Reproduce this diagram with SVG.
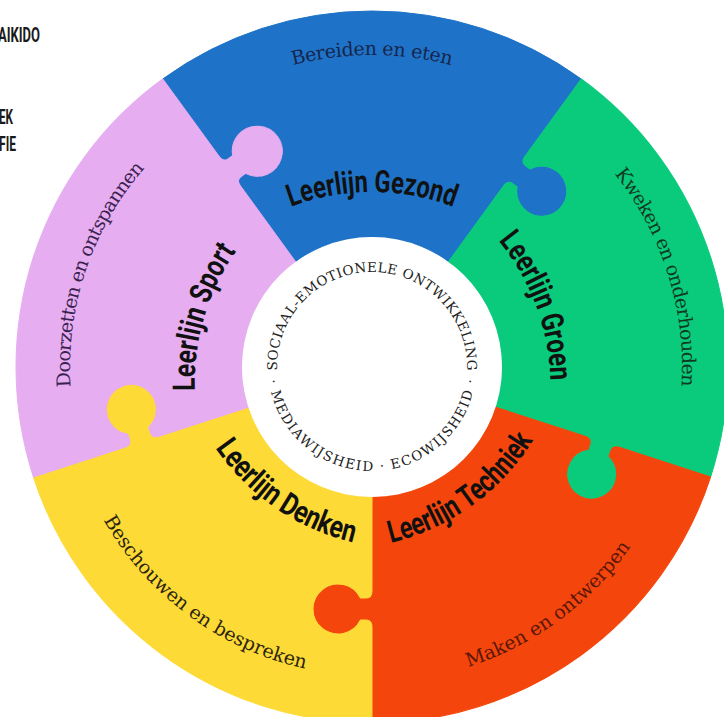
<svg xmlns="http://www.w3.org/2000/svg" width="724" height="717" viewBox="0 0 724 717">
<style>
  .lbl { font-family: Roboto, "Liberation Sans", sans-serif; font-weight: 700; font-size: 31px; fill: #111111; }
  .sub { font-family: "DejaVu Serif", "Liberation Serif", serif; font-size: 19px; }
  .ring { font-family: "DejaVu Serif", "Liberation Serif", serif; font-size: 13.5px; fill: #222222; }
  .corner { font-family: Roboto, "Liberation Sans", sans-serif; font-weight: 700; font-size: 21px; fill: #1a1a1a; }
  .piece { stroke-width: 1; stroke-linejoin: round; }
</style>
<defs>
  <path id="piece" d="M -76.412 -105.172 L -131.664 -181.220 Q -135.778 -186.883 -130.924 -190.410 L -126.434 -193.672 A 25 25 0 1 0 -139.366 -211.470 L -143.856 -208.208 Q -148.710 -204.681 -152.824 -210.344 L -209.251 -288.010 A 356 356 0 0 1 209.251 -288.010 L 152.824 -210.344 Q 148.710 -204.681 153.564 -201.154 L 158.054 -197.892 A 25 25 0 1 1 145.122 -180.094 L 140.632 -183.356 Q 135.778 -186.883 131.664 -181.220 L 76.412 -105.172 A 130 130 0 0 0 -76.412 -105.172 Z"/>
  <path id="arcOut" d="M -131.9 -133.4 A 230 230 0 0 1 131.9 -133.4"/>
  <path id="arcIn" d="M 131.9 -129.4 A 230 230 0 0 0 -131.9 -129.4"/>
  <path id="cw312" d="M 0 312 A 312 312 0 1 1 0 -312 A 312 312 0 1 1 0 312"/>
  <path id="cw310" d="M 0 310 A 310 310 0 1 1 0 -310 A 310 310 0 1 1 0 310"/>
  <path id="cw302" d="M 0 302 A 302 302 0 1 1 0 -302 A 302 302 0 1 1 0 302"/>
  <path id="ccw315" d="M 0 -315 A 315 315 0 1 0 0 315 A 315 315 0 1 0 0 -315"/>
  <path id="ccw309" d="M 0 -309 A 309 309 0 1 0 0 309 A 309 309 0 1 0 0 -309"/>
  <path id="ring95" d="M 0 95 A 95 95 0 1 1 0 -95 A 95 95 0 1 1 0 95"/>
  <path id="ring104" d="M 0 -104 A 104 104 0 1 0 0 104 A 104 104 0 1 0 0 -104"/>
</defs>
<rect width="724" height="717" fill="#ffffff"/>

<g id="corner-text">
  <text class="corner" x="-2" y="42" textLength="42" lengthAdjust="spacingAndGlyphs">AIKIDO</text>
  <text class="corner" x="-1" y="124" textLength="14" lengthAdjust="spacingAndGlyphs">EK</text>
  <text class="corner" x="-1" y="151" textLength="17" lengthAdjust="spacingAndGlyphs">FIE</text>
</g>

<g transform="translate(372 367)">
  <g id="leerlijn-gezond">
    <use href="#piece" class="piece" fill="#1E73C8" stroke="#1E73C8"/>
    <text class="lbl"><textPath href="#arcOut" startOffset="50%" text-anchor="middle" textLength="166" lengthAdjust="spacingAndGlyphs">Leerlijn Gezond</textPath></text>
    <text class="sub" fill="#16264d"><textPath href="#cw312" startOffset="50%" text-anchor="middle" textLength="160">Bereiden en eten</textPath></text>
  </g>
  <g id="leerlijn-groen">
    <use href="#piece" class="piece" transform="rotate(72)" fill="#0ACB7C" stroke="#0ACB7C"/>
    <text class="lbl" transform="rotate(69.7)"><textPath href="#arcOut" startOffset="50%" text-anchor="middle" textLength="152" lengthAdjust="spacingAndGlyphs">Leerlijn Groen</textPath></text>
    <text class="sub" fill="#0f3a22" transform="rotate(72.5)"><textPath href="#cw310" startOffset="50%" text-anchor="middle" textLength="228">Kweken en onderhouden</textPath></text>
  </g>
  <g id="leerlijn-techniek">
    <use href="#piece" class="piece" transform="rotate(144)" fill="#F4460C" stroke="#F4460C"/>
    <text class="lbl" transform="rotate(144.2)"><textPath href="#arcIn" startOffset="50%" text-anchor="middle" textLength="180" lengthAdjust="spacingAndGlyphs">Leerlijn Techniek</textPath></text>
    <text class="sub" fill="#5a1606" transform="rotate(-36.5)"><textPath href="#ccw315" startOffset="50%" text-anchor="middle" textLength="206">Maken en ontwerpen</textPath></text>
  </g>
  <g id="leerlijn-denken">
    <use href="#piece" class="piece" transform="rotate(216)" fill="#FDDA36" stroke="#FDDA36"/>
    <text class="lbl" transform="rotate(214.4)"><textPath href="#arcIn" startOffset="50%" text-anchor="middle" textLength="171" lengthAdjust="spacingAndGlyphs">Leerlijn Denken</textPath></text>
    <text class="sub" fill="#2b2410" transform="rotate(36.4)"><textPath href="#ccw309" startOffset="50%" text-anchor="middle" textLength="258">Beschouwen en bespreken</textPath></text>
  </g>
  <g id="leerlijn-sport">
    <use href="#piece" class="piece" transform="rotate(288)" fill="#E6ADF1" stroke="#E6ADF1"/>
    <text class="lbl" transform="rotate(286.4)"><textPath href="#arcOut" startOffset="50%" text-anchor="middle" textLength="148" lengthAdjust="spacingAndGlyphs">Leerlijn Sport</textPath></text>
    <text class="sub" fill="#3a2250" transform="rotate(288.7)"><textPath href="#cw302" startOffset="50%" text-anchor="middle" textLength="237">Doorzetten en ontspannen</textPath></text>
  </g>
  <g id="center">
    <circle cx="0" cy="0" r="130" fill="#ffffff"/>
    <text class="ring"><textPath href="#ring95" startOffset="50%" text-anchor="middle" textLength="305">SOCIAAL-EMOTIONELE ONTWIKKELING</textPath></text>
    <text class="ring"><textPath href="#ring104" startOffset="50%" text-anchor="middle" textLength="300">· MEDIAWIJSHEID · ECOWIJSHEID ·</textPath></text>
  </g>
</g>
</svg>
